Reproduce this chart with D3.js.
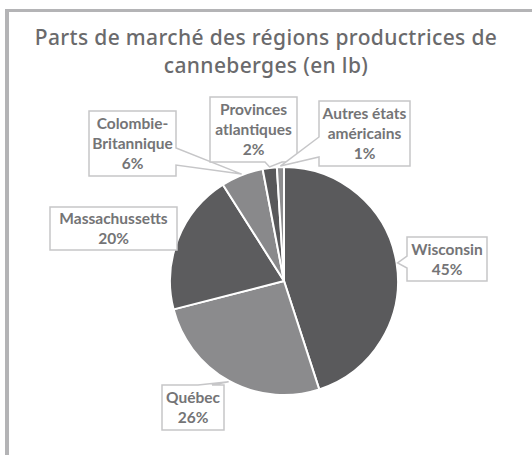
<!DOCTYPE html>
<html>
<head>
<meta charset="utf-8">
<script src="https://cdn.jsdelivr.net/npm/d3@7"></script>
<style>
  html, body { margin: 0; padding: 0; background: #fff; }
  svg { display: block; }
</style>
</head>
<body>
<svg id="chart" width="532" height="455"></svg>
<script>
// ---- Data ----
const titleLines = ["Parts de marché des régions productrices de", "canneberges (en lb)"];
const categories = ["Wisconsin", "Québec", "Massachussetts", "Colombie-Britannique", "Provinces atlantiques", "Autres états américains"];
const values = [45, 26, 20, 6, 2, 1];
const labelLines = [
  ["Wisconsin"],
  ["Québec"],
  ["Massachussetts"],
  ["Colombie-", "Britannique"],
  ["Provinces", "atlantiques"],
  ["Autres états", "américains"]
];

// ---- Layout / style (not data) ----
const colors = ["#5a5a5c", "#8b8b8d", "#5c5c5e", "#89898b", "#58585a", "#8d8d8f"];
const cx = 284, cy = 281, R = 114;
const boxes = [
  {x: 407, y: 237, w: 80, h: 44, side: "left",   b1: 19, b2: 31},
  {x: 162, y: 385, w: 62, h: 45, side: "top",    b1: 36, b2: 50},
  {x: 50,  y: 207, w: 127, h: 43, side: "right", b1: 22, b2: 36},
  {x: 89,  y: 111, w: 87, h: 65, side: "right",  b1: 37, b2: 54},
  {x: 210, y: 97,  w: 87, h: 65, side: "bottom", b1: 55, b2: 72},
  {x: 319, y: 101, w: 91, h: 65, side: "left",   b1: 36, b2: 56}
];

const svg = d3.select("#chart");

// frame
svg.append("rect").attr("x", 5).attr("y", 9).attr("width", 540).attr("height", 3).attr("fill", "#b4b4b6");
svg.append("rect").attr("x", 5).attr("y", 9).attr("width", 4).attr("height", 446).attr("fill", "#b4b4b6");

// title
svg.append("text")
  .attr("x", 266).attr("y", 45)
  .attr("text-anchor", "middle")
  .attr("font-family", "'Noto Sans', sans-serif")
  .attr("font-size", 21)
  .attr("font-weight", 500)
  .attr("letter-spacing", 0.35)
  .attr("fill", "#6a6a6c")
  .selectAll("tspan").data(titleLines).join("tspan")
  .attr("x", 266).attr("dy", (d, i) => i === 0 ? 0 : 28)
  .text(d => d);

// pie
const pie = d3.pie().sort(null).value(d => d)(values);
const arc = d3.arc().innerRadius(0).outerRadius(R);
const g = svg.append("g").attr("transform", `translate(${cx},${cy})`);
g.selectAll("path").data(pie).join("path")
  .attr("d", arc)
  .attr("fill", (d, i) => colors[i])
  .attr("stroke", "#fff")
  .attr("stroke-width", 2)
  .attr("stroke-linejoin", "round");

// callouts
function calloutPath(b, tip) {
  const {x, y, w, h, side, b1, b2} = b;
  const [tx, ty] = tip;
  if (side === "left")
    return `M${x},${y}L${x+w},${y}L${x+w},${y+h}L${x},${y+h}L${x},${y+b2}L${tx},${ty}L${x},${y+b1}Z`;
  if (side === "right")
    return `M${x},${y}L${x+w},${y}L${x+w},${y+b1}L${tx},${ty}L${x+w},${y+b2}L${x+w},${y+h}L${x},${y+h}Z`;
  if (side === "bottom")
    return `M${x},${y}L${x+w},${y}L${x+w},${y+h}L${x+b2},${y+h}L${tx},${ty}L${x+b1},${y+h}L${x},${y+h}Z`;
  return `M${x},${y}L${x+b1},${y}L${tx},${ty}L${x+b2},${y}L${x+w},${y}L${x+w},${y+h}L${x},${y+h}Z`;
}

const labels = svg.append("g");
pie.forEach((d, i) => {
  const a = (d.startAngle + d.endAngle) / 2;
  const tip = [cx + (R + 1) * Math.sin(a), cy - (R + 1) * Math.cos(a)];
  const b = boxes[i];
  labels.append("path")
    .attr("d", calloutPath(b, tip))
    .attr("fill", "#fff")
    .attr("stroke", "#c6c6c8")
    .attr("stroke-width", 1.5)
    .attr("stroke-linejoin", "miter");
  const lines = labelLines[i].concat([d3.format(".0%")(d.data / 100)]);
  const n = lines.length;
  const lh = 20;
  const midY = b.y + b.h / 2;
  labels.append("text")
    .attr("text-anchor", "middle")
    .attr("font-family", "Lato, sans-serif")
    .attr("font-weight", "bold")
    .attr("font-size", 15.5)
    .attr("fill", "#747476")
    .selectAll("tspan").data(lines).join("tspan")
    .attr("x", b.x + b.w / 2)
    .attr("y", (t, j) => midY + (j - (n - 1) / 2) * lh + 5.5)
    .text(t => t);
});
</script>
</body>
</html>
